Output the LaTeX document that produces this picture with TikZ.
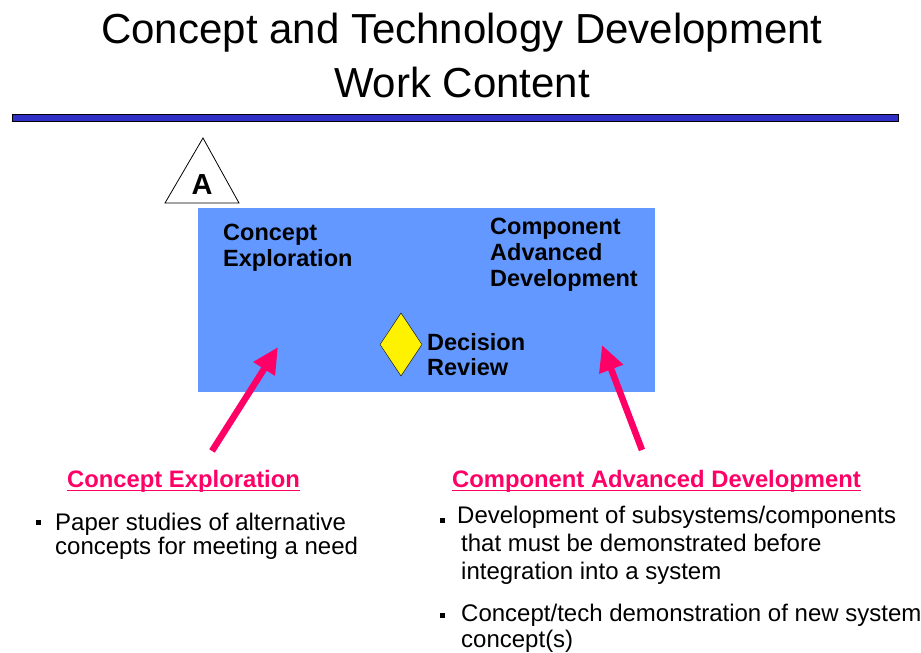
\documentclass[tikz,border=0pt]{standalone}
\usepackage{fontspec}
\setmainfont{Liberation Sans}
\usetikzlibrary{shapes.geometric}
\usetikzlibrary{arrows.meta}

\definecolor{boxblue}{RGB}{98,152,255}
\definecolor{rulebl}{RGB}{48,48,200}
\definecolor{hotpink}{RGB}{255,0,102}

\tikzset{
  titletext/.style={anchor=base,inner sep=0pt,font=\fontsize{42}{42}\selectfont},
  boxtext/.style={anchor=base west,inner sep=0pt,font=\fontsize{23.5}{23.5}\selectfont\bfseries},
  head/.style={anchor=base west,inner sep=0pt,text=hotpink,font=\fontsize{23.8}{24}\selectfont\bfseries},
  bodytext/.style={anchor=base west,inner sep=0pt,font=\fontsize{24}{24}\selectfont},
  sqbullet/.style={fill=black,inner sep=0pt,minimum size=5pt},
  pinkarrow/.style={hotpink,line width=6.5pt,-{Triangle[length=26pt,width=24pt]}}
}

\begin{document}
\begin{tikzpicture}[x=1pt,y=-1pt]
\useasboundingbox (0,0) rectangle (921,653);
% title
\node[titletext] (title1) at (462,43) {Concept and Technology Development};
\node[titletext] (title2) at (462,97) {Work Content};
\draw[fill=rulebl,line width=1pt] (12,114) rectangle (898,121);

% milestone triangle
\draw[fill=white,line width=0.8pt] (203,138) -- (239,203) -- (165,203) -- cycle;
\node[font=\fontsize{29}{29}\selectfont\bfseries,anchor=base,inner sep=0pt] (msA) at (202,194) {A};

% phase box
\fill[boxblue] (198,208) rectangle (655,392);
\node[boxtext] (ce1) at (223,240) {Concept};
\node[boxtext] (ce2) at (223,266) {Exploration};
\node[boxtext] (cad1) at (490,234) {Component};
\node[boxtext] (cad2) at (490,260) {Advanced};
\node[boxtext] (cad3) at (490,286) {Development};
\node[draw,diamond,fill=yellow,minimum width=42pt,minimum height=63pt,inner sep=0pt,
  aspect=0.67] (dr) at (401,344.5) {};
\node[boxtext] (dr1) at (427,350) {Decision};
\node[boxtext] (dr2) at (427,375) {Review};

% pointers
\coordinate (ceTail) at (212,451);
\coordinate (ceTip) at (278,347);
\coordinate (cadTail) at (642,450);
\coordinate (cadTip) at (602,345);
\draw[pinkarrow] (ceTail) -- (ceTip);
\draw[pinkarrow] (cadTail) -- (cadTip);

% left column
\node[head] (ceHead) at (67,487) {Concept Exploration};
\draw[hotpink,line width=1.2pt] (ceHead.south west) ++(0,-1.5) -- ++(233,0);
\node[sqbullet] (b1) at (38,522) {};
\node[bodytext] (ceBody1) at (55,530) {Paper studies of alternative};
\node[bodytext] (ceBody2) at (55,554) {concepts for meeting a need};

% right column
\node[head] (cadHead) at (452,487) {Component Advanced Development};
\draw[hotpink,line width=1.2pt] (cadHead.south west) ++(0,-1.5) -- ++(409,0);
\node[sqbullet] (b2) at (442,520) {};
\node[bodytext] (cadBody1) at (457,523) {Development of subsystems/components};
\node[bodytext] (cadBody2) at (461,551) {that must be demonstrated before};
\node[bodytext] (cadBody3) at (461,579) {integration into a system};
\node[sqbullet] (b3) at (442,615) {};
\node[bodytext] (cadBody4) at (461,621) {Concept/tech demonstration of new system};
\node[bodytext] (cadBody5) at (461,647) {concept(s)};
\end{tikzpicture}
\end{document}
